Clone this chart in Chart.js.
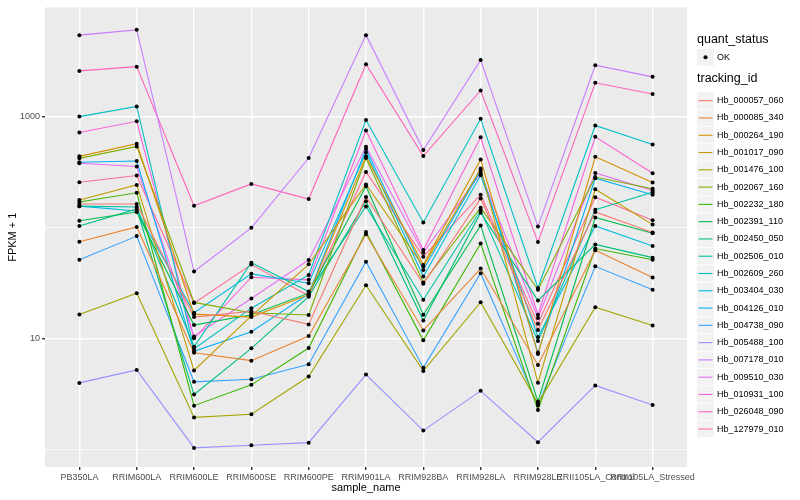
<!DOCTYPE html>
<html>
<head>
<meta charset="utf-8">
<script src="https://cdn.jsdelivr.net/npm/chart.js@4.4.0/dist/chart.umd.min.js"></script>
<style>
  body { margin: 0; background: #fff; }
</style>
</head>
<body>
<canvas id="myChart" width="800" height="500"></canvas>
<script>
const sampleNames = ['PB350LA', 'RRIM600LA', 'RRIM600LE', 'RRIM600SE', 'RRIM600PE', 'RRIM901LA',
  'RRIM928BA', 'RRIM928LA', 'RRIM928LE', 'RRII105LA_Control', 'RRII105LA_Stressed'];

const trackingIds = ['Hb_000057_060', 'Hb_000085_340', 'Hb_000264_190', 'Hb_001017_090', 'Hb_001476_100',
  'Hb_002067_160', 'Hb_002232_180', 'Hb_002391_110', 'Hb_002450_050', 'Hb_002506_010',
  'Hb_002609_260', 'Hb_003404_030', 'Hb_004126_010', 'Hb_004738_090', 'Hb_005488_100',
  'Hb_007178_010', 'Hb_009510_030', 'Hb_010931_100', 'Hb_026048_090', 'Hb_127979_010'];

// ggplot default hue palette, 20 levels
const lineColors = ['#F8766D', '#EA8331', '#D89000', '#C09B00', '#A3A500', '#7CAE00', '#39B600', '#00BB4E',
  '#00BF7D', '#00C1A3', '#00BFC4', '#00BAE0', '#00B0F6', '#35A2FF', '#9590FF', '#C77CFF',
  '#E76BF3', '#FA62DB', '#FF62BC', '#FF6C91'];

// FPKM + 1, one value per sample
const hb000057 = [164, 164, 15.7, 17.7, 13.5, 190, 31.3, 184, 12.0, 139, 91];
const hb000085 = [75, 102, 7.49, 6.36, 10.6, 87.5, 11.9, 43.0, 5.82, 62.9, 35.7];
const hb000264 = [441, 573, 16.7, 15.7, 25.0, 441, 46.4, 413, 7.29, 437, 257];
const hb001017 = [178, 244, 5.19, 16.1, 46.9, 246, 44.8, 342, 4.03, 223, 107];
const hb001476 = [16.6, 25.8, 1.96, 2.09, 4.57, 30.4, 5.14, 21.4, 2.62, 19.3, 13.2];
const hb002067 = [423, 542, 21.3, 17.2, 16.4, 426, 32.2, 152, 27.7, 287, 225];
const hb002232 = [171, 207, 2.50, 3.85, 8.26, 92, 9.7, 72.2, 2.28, 65.1, 51.7];
const hb002391 = [116, 139, 13.3, 16.5, 25.8, 237, 16.5, 105, 2.73, 124, 89.3];
const hb002450 = [104, 148, 3.15, 8.21, 24.0, 174, 14.6, 137, 22.1, 70.9, 53.9];
const hb002506 = [157, 154, 8.48, 48.6, 26.7, 156, 22.5, 144, 9.54, 146, 209];
const hb002609 = [1006, 1244, 8.14, 18.9, 37.7, 936, 112, 962, 28.7, 836, 565];
const hb003404 = [157, 142, 17.2, 38.5, 31.7, 479, 36.4, 298, 10.4, 104, 68.6];
const hb004126 = [390, 400, 7.71, 11.6, 25.4, 513, 41.8, 329, 7.52, 280, 199];
const hb004738 = [51.7, 84.3, 4.10, 4.33, 5.90, 49.6, 5.50, 39.0, 2.51, 45.0, 27.7];
const hb005488 = [4.01, 5.25, 1.04, 1.10, 1.16, 4.76, 1.49, 3.40, 1.17, 3.80, 2.53];
const hb007178 = [5455, 6086, 40.4, 100, 426, 5455, 502, 3258, 103, 2921, 2295];
const hb009510 = [382, 357, 10.5, 23.1, 51.4, 537, 59.7, 311, 15.4, 313, 217];
const hb010931 = [724, 913, 10.1, 35.9, 34.0, 754, 63.2, 655, 16.5, 662, 311];
const hb026048 = [2597, 2838, 158, 249, 182, 2982, 444, 1731, 74.6, 2028, 1607];
const hb127979 = [258, 296, 21.0, 46.7, 24.4, 319, 55.0, 199, 13.7, 189, 117];

const seriesValues = [hb000057, hb000085, hb000264, hb001017, hb001476, hb002067, hb002232,
  hb002391, hb002450, hb002506, hb002609, hb003404, hb004126, hb004738, hb005488, hb007178,
  hb009510, hb010931, hb026048, hb127979];

const yTicks = [1, 10, 100, 1000];
const yLabelled = [10, 1000];

const FONT = "'Liberation Sans', Arial, sans-serif";

function toPoints(values) {
  return values.map((v, i) => ({ x: i, y: v }));
}

function makeDatasets() {
  const lines = seriesValues.map((values, k) => ({
    label: trackingIds[k],
    data: toPoints(values),
    borderColor: lineColors[k],
    backgroundColor: lineColors[k],
    borderWidth: 1.1,
    pointRadius: 0,
    tension: 0,
    order: 2
  }));
  // all points drawn on top of every line, like geom_point after geom_line
  const dots = {
    label: 'OK',
    type: 'scatter',
    data: seriesValues.flatMap(toPoints),
    pointRadius: 2,
    pointBackgroundColor: '#000',
    pointBorderWidth: 0,
    showLine: false,
    order: 1
  };
  return lines.concat([dots]);
}

const panelBackground = {
  id: 'panelBackground',
  beforeDraw(chart) {
    const { ctx, chartArea: a } = chart;
    ctx.save();
    ctx.fillStyle = '#EBEBEB';
    ctx.fillRect(a.left, a.top, a.right - a.left, a.bottom - a.top);
    ctx.restore();
  }
};

const ggLegend = {
  id: 'ggLegend',
  afterDraw(chart) {
    const ctx = chart.ctx;
    const x0 = 697;
    ctx.save();
    ctx.textBaseline = 'middle';
    ctx.textAlign = 'left';
    ctx.fillStyle = '#000';
    ctx.font = '12.5px ' + FONT;
    ctx.fillText('quant_status', x0, 40);

    ctx.fillStyle = '#F2F2F2';
    ctx.fillRect(x0, 49, 17, 16.5);
    ctx.fillStyle = '#000';
    ctx.beginPath();
    ctx.arc(x0 + 8.5, 57.3, 2, 0, Math.PI * 2);
    ctx.fill();
    ctx.font = '9px ' + FONT;
    ctx.fillText('OK', x0 + 20, 57.3);

    ctx.font = '12.5px ' + FONT;
    ctx.fillText('tracking_id', x0, 79);

    trackingIds.forEach((name, i) => {
      const cy = 100.7 + i * 17.28;
      ctx.fillStyle = '#F2F2F2';
      ctx.fillRect(x0, cy - 8.2, 17, 16.4);
      ctx.strokeStyle = lineColors[i];
      ctx.lineWidth = 1.1;
      ctx.beginPath();
      ctx.moveTo(x0 + 1.5, cy);
      ctx.lineTo(x0 + 15.5, cy);
      ctx.stroke();
      ctx.fillStyle = '#000';
      ctx.font = '9px ' + FONT;
      ctx.fillText(name, x0 + 20, cy);
    });
    ctx.restore();
  }
};

function makeChart() {
  const ctx = document.getElementById('myChart');
  const isMajor = (c) => c.tick && yLabelled.includes(c.tick.value);

  // eslint-disable-next-line no-new
  const myChart = new Chart(ctx, {
    type: 'line',
    data: { datasets: makeDatasets() },
    options: {
      responsive: false,
      animation: false,
      devicePixelRatio: 1,
      layout: { padding: { top: 5, right: 113, left: 0, bottom: 0 } },
      plugins: {
        legend: { display: false },
        tooltip: { enabled: false }
      },
      scales: {
        x: {
          type: 'linear',
          min: -0.6,
          max: 10.6,
          afterBuildTicks: (scale) => {
            scale.ticks = sampleNames.map((_, i) => ({ value: i }));
          },
          afterFit: (scale) => { scale.height = 33; },
          ticks: {
            autoSkip: false,
            maxRotation: 0,
            minRotation: 0,
            padding: 2,
            color: '#4D4D4D',
            font: { family: FONT, size: 9 },
            callback: (v) => sampleNames[v]
          },
          grid: {
            color: '#FFFFFF',
            lineWidth: 1.4,
            tickColor: '#333333',
            tickLength: 3
          },
          border: { display: false },
          title: {
            display: true,
            text: 'sample_name',
            color: '#000',
            font: { family: FONT, size: 11 },
            padding: { top: 0, bottom: 5 }
          }
        },
        y: {
          type: 'logarithmic',
          min: 0.7,
          max: 9700,
          afterBuildTicks: (scale) => {
            scale.ticks = yTicks.map(v => ({ value: v }));
          },
          afterFit: (scale) => { scale.width = 45; },
          ticks: {
            padding: 2,
            color: '#4D4D4D',
            font: { family: FONT, size: 9 },
            callback: (v) => (yLabelled.includes(v) ? String(v) : '')
          },
          grid: {
            color: '#FFFFFF',
            lineWidth: (c) => (isMajor(c) ? 1.4 : 0.7),
            tickColor: (c) => (isMajor(c) ? '#333333' : 'rgba(0,0,0,0)'),
            tickLength: 3
          },
          border: { display: false },
          title: {
            display: true,
            text: 'FPKM + 1',
            color: '#000',
            font: { family: FONT, size: 11 },
            padding: { top: 6, bottom: 0 }
          }
        }
      }
    },
    plugins: [panelBackground, ggLegend]
  });
  return myChart;
}

document.addEventListener('DOMContentLoaded', function() {
  makeChart();
});
</script>
</body>
</html>
